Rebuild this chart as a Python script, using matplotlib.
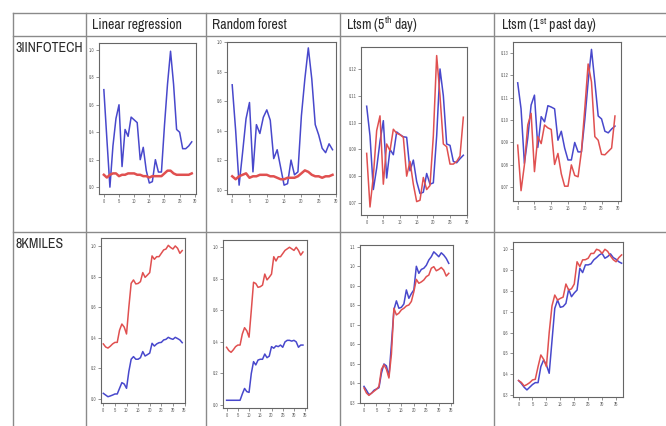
import matplotlib
matplotlib.use("Agg")
import matplotlib.pyplot as plt
from matplotlib import font_manager

# pick a narrow sans for the table text (Calibri-like look)
tfont, tstretch, tsize = 'Roboto', 'normal', 8.3
for f in font_manager.fontManager.ttflist:
    if 'Narrow' in f.name or 'Condensed' in f.name:
        tfont, tstretch, tsize = f.name, 'normal', 10
        break
else:
    for f in font_manager.fontManager.ttflist:
        if f.name == 'DejaVu Sans' and str(f.stretch) in ('condensed', '500', 'semi-condensed'):
            tfont, tstretch, tsize = 'DejaVu Sans', 'condensed', 8.6
            break
plt.rcParams['font.family'] = [tfont, 'DejaVu Sans']
plt.rcParams['mathtext.fontset'] = 'custom'
plt.rcParams['mathtext.rm'] = tfont

col_titles = ["Linear regression", "Random forest",
              "Ltsm (5$^{\\mathrm{th}}$ day)", "Ltsm (1$^{\\mathrm{st}}$ past day)"]
row_titles = ["3IINFOTECH", "8KMILES"]

# ---- 3IINFOTECH ----
lr_3i_true = [0.71, 0.35, 0.0, 0.3, 0.5, 0.6, 0.15, 0.42, 0.37, 0.51, 0.49, 0.47, 0.2, 0.29, 0.12,
              0.03, 0.04, 0.2, 0.11, 0.11, 0.45, 0.75, 0.99, 0.75, 0.42, 0.4, 0.28, 0.28, 0.3, 0.33]
lr_3i_pred = [0.09, 0.07, 0.09, 0.1, 0.1, 0.08, 0.09, 0.09, 0.1, 0.1, 0.1, 0.09, 0.09, 0.08, 0.08,
              0.07, 0.08, 0.08, 0.08, 0.08, 0.1, 0.12, 0.12, 0.1, 0.09, 0.09, 0.09, 0.09, 0.09, 0.1]
rf_3i_true = [0.71, 0.4, 0.03, 0.25, 0.48, 0.59, 0.12, 0.44, 0.38, 0.49, 0.54, 0.47, 0.21, 0.27, 0.15,
              0.03, 0.04, 0.2, 0.1, 0.12, 0.5, 0.75, 0.96, 0.75, 0.44, 0.37, 0.28, 0.25, 0.31, 0.27]
rf_3i_pred = [0.09, 0.07, 0.09, 0.1, 0.11, 0.08, 0.09, 0.09, 0.1, 0.1, 0.1, 0.09, 0.09, 0.08, 0.07,
              0.07, 0.08, 0.08, 0.08, 0.09, 0.11, 0.13, 0.12, 0.1, 0.09, 0.09, 0.08, 0.09, 0.09, 0.1]
l5_3i_true = [0.1061, 0.095, 0.075, 0.083, 0.093, 0.1007, 0.0793, 0.09, 0.088, 0.0965, 0.0955, 0.0947,
              0.0945, 0.082, 0.086, 0.078, 0.0735, 0.074, 0.081, 0.077, 0.0775, 0.095, 0.12, 0.11,
              0.092, 0.0915, 0.0855, 0.085, 0.0865, 0.0878]
l5_3i_pred = [0.0885, 0.0685, 0.08, 0.097, 0.1025, 0.077, 0.092, 0.0895, 0.0975, 0.096, 0.0955, 0.0945,
              0.08, 0.0855, 0.077, 0.0705, 0.071, 0.0795, 0.075, 0.0765, 0.095, 0.125, 0.11, 0.092,
              0.091, 0.0845, 0.0845, 0.0855, 0.0875, 0.102]
l1_3i_true = [0.1166, 0.105, 0.0807, 0.092, 0.1067, 0.1111, 0.0878, 0.1015, 0.0992, 0.1064, 0.1058,
              0.105, 0.091, 0.095, 0.0875, 0.0822, 0.0822, 0.09, 0.0858, 0.0858, 0.1, 0.117, 0.1315,
              0.117, 0.1018, 0.1005, 0.095, 0.0943, 0.096, 0.0973]
l1_3i_pred = [0.0888, 0.0685, 0.08, 0.0978, 0.103, 0.077, 0.0926, 0.0895, 0.0978, 0.0965, 0.0958,
              0.0802, 0.0851, 0.076, 0.0705, 0.0705, 0.08, 0.0753, 0.0747, 0.086, 0.105, 0.125, 0.117,
              0.0926, 0.091, 0.0847, 0.0845, 0.086, 0.0875, 0.1018]

# ---- 8KMILES ----
lr_8k_true = [0.36, 0.34, 0.333, 0.345, 0.36, 0.37, 0.37, 0.45, 0.49, 0.47, 0.425, 0.6, 0.756, 0.778,
              0.752, 0.755, 0.767, 0.826, 0.795, 0.81, 0.826, 0.935, 0.913, 0.93, 0.93, 0.952, 0.974,
              0.98, 1.004, 0.99, 0.98, 1.0, 0.985, 0.952, 0.97]
lr_8k_pred = [0.037, 0.026, 0.015, 0.02, 0.026, 0.033, 0.033, 0.07, 0.107, 0.098, 0.07, 0.18, 0.26,
              0.277, 0.26, 0.26, 0.27, 0.31, 0.281, 0.29, 0.3, 0.364, 0.346, 0.36, 0.368, 0.37, 0.386,
              0.39, 0.403, 0.395, 0.39, 0.403, 0.395, 0.386, 0.368]
rf_8k_true = [0.366, 0.345, 0.334, 0.35, 0.37, 0.38, 0.38, 0.45, 0.49, 0.47, 0.43, 0.6, 0.778, 0.77,
              0.746, 0.75, 0.76, 0.83, 0.793, 0.81, 0.83, 0.94, 0.913, 0.94, 0.94, 0.96, 0.98, 0.99,
              1.0, 0.99, 0.98, 1.0, 0.98, 0.95, 0.97]
rf_8k_pred = [0.03, 0.03, 0.03, 0.03, 0.03, 0.03, 0.03, 0.07, 0.105, 0.085, 0.08, 0.2, 0.275, 0.254,
              0.285, 0.29, 0.29, 0.323, 0.3, 0.31, 0.37, 0.36, 0.375, 0.37, 0.38, 0.366, 0.4, 0.41,
              0.41, 0.405, 0.41, 0.4, 0.366, 0.38, 0.38]
l5_8k_true = [0.385, 0.365, 0.343, 0.35, 0.365, 0.372, 0.378, 0.453, 0.5, 0.49, 0.436, 0.6, 0.777,
              0.823, 0.785, 0.79, 0.807, 0.879, 0.836, 0.86, 0.879, 1.0, 0.964, 0.984, 0.99, 1.005,
              1.032, 1.049, 1.074, 1.062, 1.049, 1.069, 1.057, 1.04, 1.015]
l5_8k_pred = [0.377, 0.351, 0.339, 0.35, 0.36, 0.37, 0.385, 0.473, 0.496, 0.473, 0.428, 0.55, 0.785,
              0.751, 0.76, 0.777, 0.785, 0.797, 0.802, 0.82, 0.87, 0.933, 0.913, 0.92, 0.93, 0.947,
              0.955, 0.99, 0.998, 0.977, 0.984, 0.994, 0.98, 0.95, 0.964]
l1_8k_true = [0.369, 0.355, 0.337, 0.324, 0.337, 0.35, 0.359, 0.359, 0.436, 0.468, 0.444, 0.404, 0.56,
              0.716, 0.756, 0.721, 0.725, 0.74, 0.808, 0.772, 0.79, 0.804, 0.909, 0.888, 0.925, 0.925,
              0.93, 0.949, 0.96, 0.973, 0.98, 0.957, 0.965, 0.978, 0.96, 0.952, 0.94, 0.933]
l1_8k_pred = [0.369, 0.36, 0.343, 0.35, 0.359, 0.372, 0.375, 0.436, 0.492, 0.471, 0.436, 0.6, 0.728,
              0.78, 0.756, 0.764, 0.77, 0.833, 0.804, 0.81, 0.833, 0.94, 0.917, 0.949, 0.95, 0.957,
              0.98, 0.98, 1.0, 0.995, 0.98, 1.0, 0.99, 0.968, 0.95, 0.94, 0.96, 0.973]

BLUE = '#4848cc'
RED = '#e05050'

W, H = 666, 426
fig = plt.figure(figsize=(W / 100, H / 100), dpi=100)

# background "table"
bg = fig.add_axes([0, 0, 1, 1])
bg.set_xlim(0, W)
bg.set_ylim(H, 0)
bg.axis('off')
gc = '#8a8a8a'
bg.plot([13, W], [13, 13], color=gc, lw=1)
bg.plot([13, W], [36, 36], color=gc, lw=1)
bg.plot([13, W], [232, 232], color=gc, lw=1)
for x in [13, 86, 206, 340, 494]:
    bg.plot([x, x], [13, H], color=gc, lw=1)
for x, t in zip([92, 212, 346, 501], col_titles):
    bg.text(x, 25, t, fontsize=tsize, fontstretch=tstretch, va='center', ha='left', color='#2a2a2a')
for y, t in zip([48, 244], row_titles):
    bg.text(16, y, t, fontsize=tsize, fontstretch=tstretch, va='center', ha='left', color='#2a2a2a')

# (left, right, top, bottom) in pixels, xlim, ylim, ticks
panels = [
    (lr_3i_true, lr_3i_pred, (99, 196, 43, 194), (-1.6, 30.4), (-0.05, 1.05), [0, 0.2, 0.4, 0.6, 0.8, 1.0], 5, 1.8),
    (rf_3i_true, rf_3i_pred, (227, 336, 42, 194), (-1.5, 30.0), (-0.03, 1.0), [0, 0.2, 0.4, 0.6, 0.8, 1.0], 5, 1.8),
    (l5_3i_true, l5_3i_pred, (361, 467, 47, 215), (-1.7, 30.1), (0.0655, 0.1282), [0.07, 0.08, 0.09, 0.10, 0.11, 0.12], 5, 1.1),
    (l1_3i_true, l1_3i_pred, (513, 621, 42, 201), (-1.4, 30.8), (0.0639, 0.1348), [0.07, 0.08, 0.09, 0.10, 0.11, 0.12, 0.13], 5, 1.1),
    (lr_8k_pred, lr_8k_true, (101, 185, 238, 403), (-1.0, 35.2), (-0.026, 1.052), [0, 0.2, 0.4, 0.6, 0.8, 1.0], 5, 1.1),
    (rf_8k_pred, rf_8k_true, (223, 307, 240, 408), (-1.6, 35.8), (-0.019, 1.046), [0, 0.2, 0.4, 0.6, 0.8, 1.0], 5, 1.1),
    (l5_8k_true, l5_8k_pred, (360, 453, 245, 403), (-1.6, 35.7), (0.3, 1.109), [0.3, 0.4, 0.5, 0.6, 0.7, 0.8, 0.9, 1.0, 1.1], 5, 1.1),
    (l1_8k_true, l1_8k_pred, (513, 623, 242, 397), (-2.0, 37.5), (0.29, 1.035), [0.3, 0.4, 0.5, 0.6, 0.7, 0.8, 0.9, 1.0], 5, 1.1),
]

for blue, red, (l, r, t, b), xl, yl, yt, step, rlw in panels:
    ax = fig.add_axes([l / W, 1 - b / H, (r - l) / W, (b - t) / H])
    ax.plot(range(len(blue)), blue, color=BLUE, lw=1.1)
    ax.plot(range(len(red)), red, color=RED, lw=rlw)
    ax.set_xlim(*xl)
    ax.set_ylim(*yl)
    ax.set_yticks(yt)
    ax.set_xticks(range(0, int(xl[1]) + 1, step))
    ax.yaxis.set_major_formatter(plt.FormatStrFormatter('%.1f' if yt[-1] > 0.5 else '%.2f'))
    ax.tick_params(labelsize=3.5, colors='#666666', length=2, width=0.5, pad=1.5)
    for s in ax.spines.values():
        s.set_color('#666666')
        s.set_linewidth(0.8)

fig.savefig('out.png', dpi=100)
